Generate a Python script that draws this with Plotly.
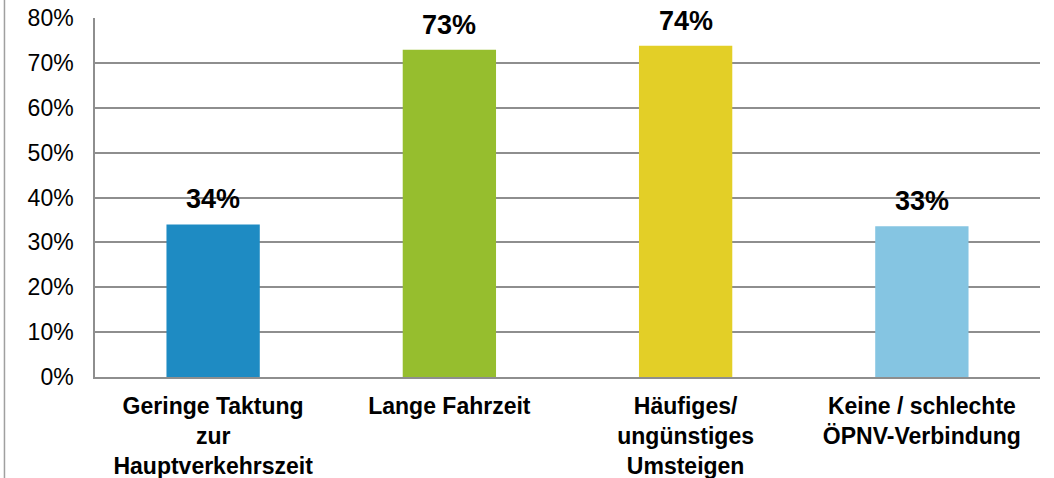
import plotly.graph_objects as go

categories = [
    "Geringe Taktung<br>zur<br>Hauptverkehrszeit",
    "Lange Fahrzeit",
    "Häufiges/<br>ungünstiges<br>Umsteigen",
    "Keine / schlechte<br>ÖPNV-Verbindung",
]
values = [0.340, 0.729, 0.738, 0.336]
value_labels = ["34%", "73%", "74%", "33%"]
colors = ["#1E8BC3", "#96BE2E", "#E3CF27", "#85C5E2"]
y_ticks = [0, 0.1, 0.2, 0.3, 0.4, 0.5, 0.6, 0.7, 0.8]

_FONT = "Liberation Sans, Arial, sans-serif"
_GRID = "#8E8E8E"

fig = go.Figure()
fig.add_trace(
    go.Bar(
        x=categories,
        y=values,
        marker={"color": colors, "line": {"width": 0}},
        hoverinfo="skip",
    )
)

# value labels above bars, drawn on top of the gridlines
for cat, val, lab in zip(categories, values, value_labels):
    fig.add_annotation(
        x=cat,
        y=val,
        text=f"<b>{lab}</b>",
        showarrow=False,
        yanchor="bottom",
        yshift=8,
        font={"family": _FONT, "size": 27, "color": "#000000"},
    )

# thin border line at the far left of the image
fig.add_shape(
    type="line",
    xref="paper",
    yref="paper",
    x0=-0.0958,
    x1=-0.0958,
    y0=-0.3,
    y1=1.06,
    line={"color": "#A0A0A0", "width": 1.5},
)

fig.update_layout(
    width=1054,
    height=478,
    margin={"l": 95, "r": 14, "t": 18, "b": 101},
    paper_bgcolor="white",
    plot_bgcolor="white",
    bargap=0.605,
    showlegend=False,
    font={"family": _FONT, "color": "#000000"},
    xaxis={
        "showline": True,
        "linecolor": _GRID,
        "linewidth": 1.5,
        "tickfont": {"family": _FONT, "size": 23},
        "tickprefix": "<b>",
        "ticksuffix": "</b>",
        "ticklabelstandoff": 8,
        "automargin": False,
        "fixedrange": True,
    },
    yaxis={
        "range": [0, 0.8],
        "tickvals": y_ticks,
        "tickformat": ".0%",
        "showgrid": True,
        "gridcolor": _GRID,
        "gridwidth": 1.5,
        "showline": True,
        "linecolor": _GRID,
        "linewidth": 1.5,
        "zeroline": False,
        "tickfont": {"family": _FONT, "size": 23},
        "ticklabelstandoff": 15,
        "automargin": False,
        "fixedrange": True,
    },
)

# drop the default 8px page margin so the figure sits at the window corner
fig.write_html(
    "out.html",
    config={"displayModeBar": False},
    post_script="document.body.style.margin='0';",
)
